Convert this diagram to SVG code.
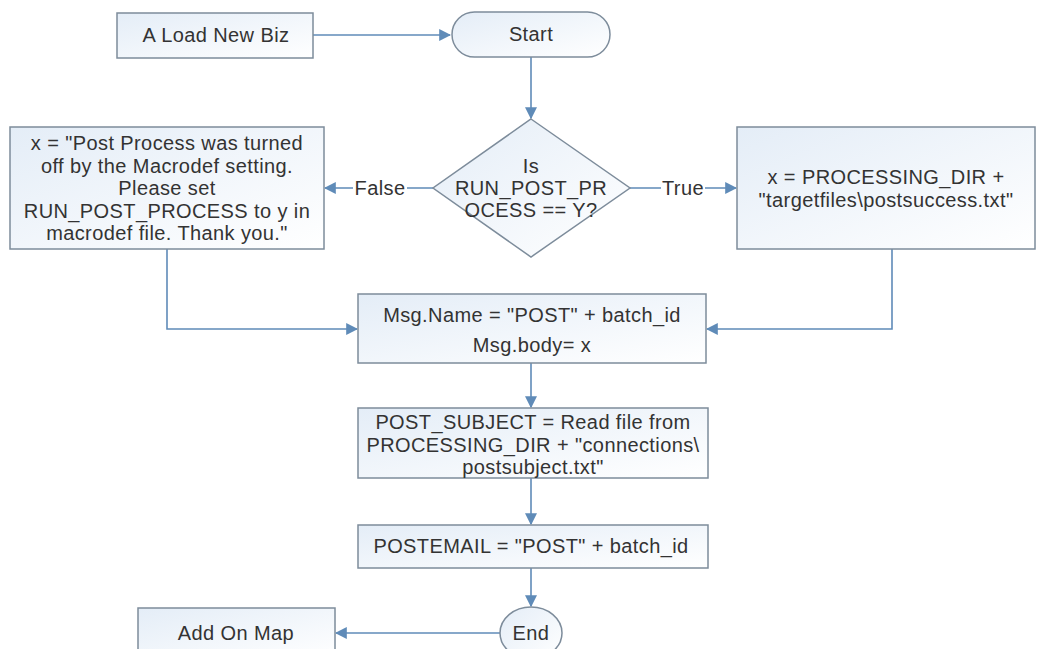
<svg xmlns="http://www.w3.org/2000/svg" width="1038" height="649" viewBox="0 0 1038 649">
<defs>
  <linearGradient id="fillGrad" x1="0" y1="0" x2="1" y2="1">
    <stop offset="0" stop-color="#e4edf7"/>
    <stop offset="1" stop-color="#ffffff"/>
  </linearGradient>
  <marker id="arrow" viewBox="0 0 10 10" refX="9" refY="5" markerWidth="12" markerHeight="12" markerUnits="userSpaceOnUse" orient="auto">
    <path d="M0,0 L10,5 L0,10 Z" fill="#5f8bb8"/>
  </marker>
  <style>
    .shape { fill: url(#fillGrad); stroke: #7d8c9b; stroke-width: 1.5; }
    .conn { fill: none; stroke: #5f8bb8; stroke-width: 1.6; }
    .txt { font-family: "Liberation Sans", Arial, sans-serif; font-size: 20px; letter-spacing: 0.4px; fill: #333333; text-anchor: middle; dominant-baseline: central; }
    .lbl { font-family: "Liberation Sans", Arial, sans-serif; font-size: 20px; letter-spacing: 0.4px; fill: #333333; text-anchor: middle; dominant-baseline: central; }
  </style>
</defs>
<rect width="1038" height="649" fill="#ffffff"/>

<g id="connectors">
  <path class="conn" d="M313,35 L450,35" marker-end="url(#arrow)"/>
  <path class="conn" d="M531,57 L531,118" marker-end="url(#arrow)"/>
  <path class="conn" d="M433,188 L407,188 M353,188 L325,188" marker-end="url(#arrow)"/>
  <path class="conn" d="M630,188 L661,188 M705,188 L736,188" marker-end="url(#arrow)"/>
  <path class="conn" d="M167,249 L167,329 L357,329" marker-end="url(#arrow)"/>
  <path class="conn" d="M892,249 L892,329 L707,329" marker-end="url(#arrow)"/>
  <path class="conn" d="M531,363 L531,407" marker-end="url(#arrow)"/>
  <path class="conn" d="M531,478 L531,524" marker-end="url(#arrow)"/>
  <path class="conn" d="M531,568 L531,606" marker-end="url(#arrow)"/>
  <path class="conn" d="M500,633 L336,633" marker-end="url(#arrow)"/>
  <text class="lbl" x="380" y="188">False</text>
  <text class="lbl" x="683" y="188">True</text>
</g>

<g id="load-new-biz">
  <rect class="shape" x="117" y="13" width="196" height="45"/>
  <text class="txt" x="216" y="35">A Load New Biz</text>
</g>

<g id="start">
  <rect class="shape" x="452" y="12" width="158" height="45" rx="22.5" ry="22.5"/>
  <text class="txt" x="531" y="34">Start</text>
</g>

<g id="decision">
  <polygon class="shape" points="531,119 630,188 531,257 433,188"/>
  <text class="txt" x="531" y="166">Is</text>
  <text class="txt" x="531" y="188">RUN_POST_PR</text>
  <text class="txt" x="531" y="210">OCESS == Y?</text>
</g>

<g id="false-box">
  <rect class="shape" x="10" y="127" width="314" height="122"/>
  <text class="txt" x="167" y="143">x = "Post Process was turned</text>
  <text class="txt" x="167" y="165.5">off by the Macrodef setting.</text>
  <text class="txt" x="167" y="188">Please set</text>
  <text class="txt" x="167" y="210.5">RUN_POST_PROCESS to y in</text>
  <text class="txt" x="167" y="233">macrodef file. Thank you."</text>
</g>

<g id="true-box">
  <rect class="shape" x="737" y="127" width="298" height="122"/>
  <text class="txt" x="886" y="177">x = PROCESSING_DIR +</text>
  <text class="txt" x="886" y="200">"targetfiles\postsuccess.txt"</text>
</g>

<g id="msg-box">
  <rect class="shape" x="358" y="294" width="348" height="69"/>
  <text class="txt" x="532" y="315">Msg.Name = "POST" + batch_id</text>
  <text class="txt" x="532" y="345">Msg.body= x</text>
</g>

<g id="subject-box">
  <rect class="shape" x="358" y="408" width="350" height="70"/>
  <text class="txt" x="533" y="422">POST_SUBJECT = Read file from</text>
  <text class="txt" x="533" y="444.5">PROCESSING_DIR + "connections\</text>
  <text class="txt" x="533" y="467">postsubject.txt"</text>
</g>

<g id="postemail-box">
  <rect class="shape" x="358" y="525" width="350" height="43"/>
  <text class="txt" x="531" y="546">POSTEMAIL = "POST" + batch_id</text>
</g>

<g id="end">
  <ellipse class="shape" cx="531" cy="633" rx="31" ry="26"/>
  <text class="txt" x="531" y="633">End</text>
</g>

<g id="add-on-map">
  <rect class="shape" x="138" y="608" width="197" height="50"/>
  <text class="txt" x="236" y="633">Add On Map</text>
</g>
</svg>
